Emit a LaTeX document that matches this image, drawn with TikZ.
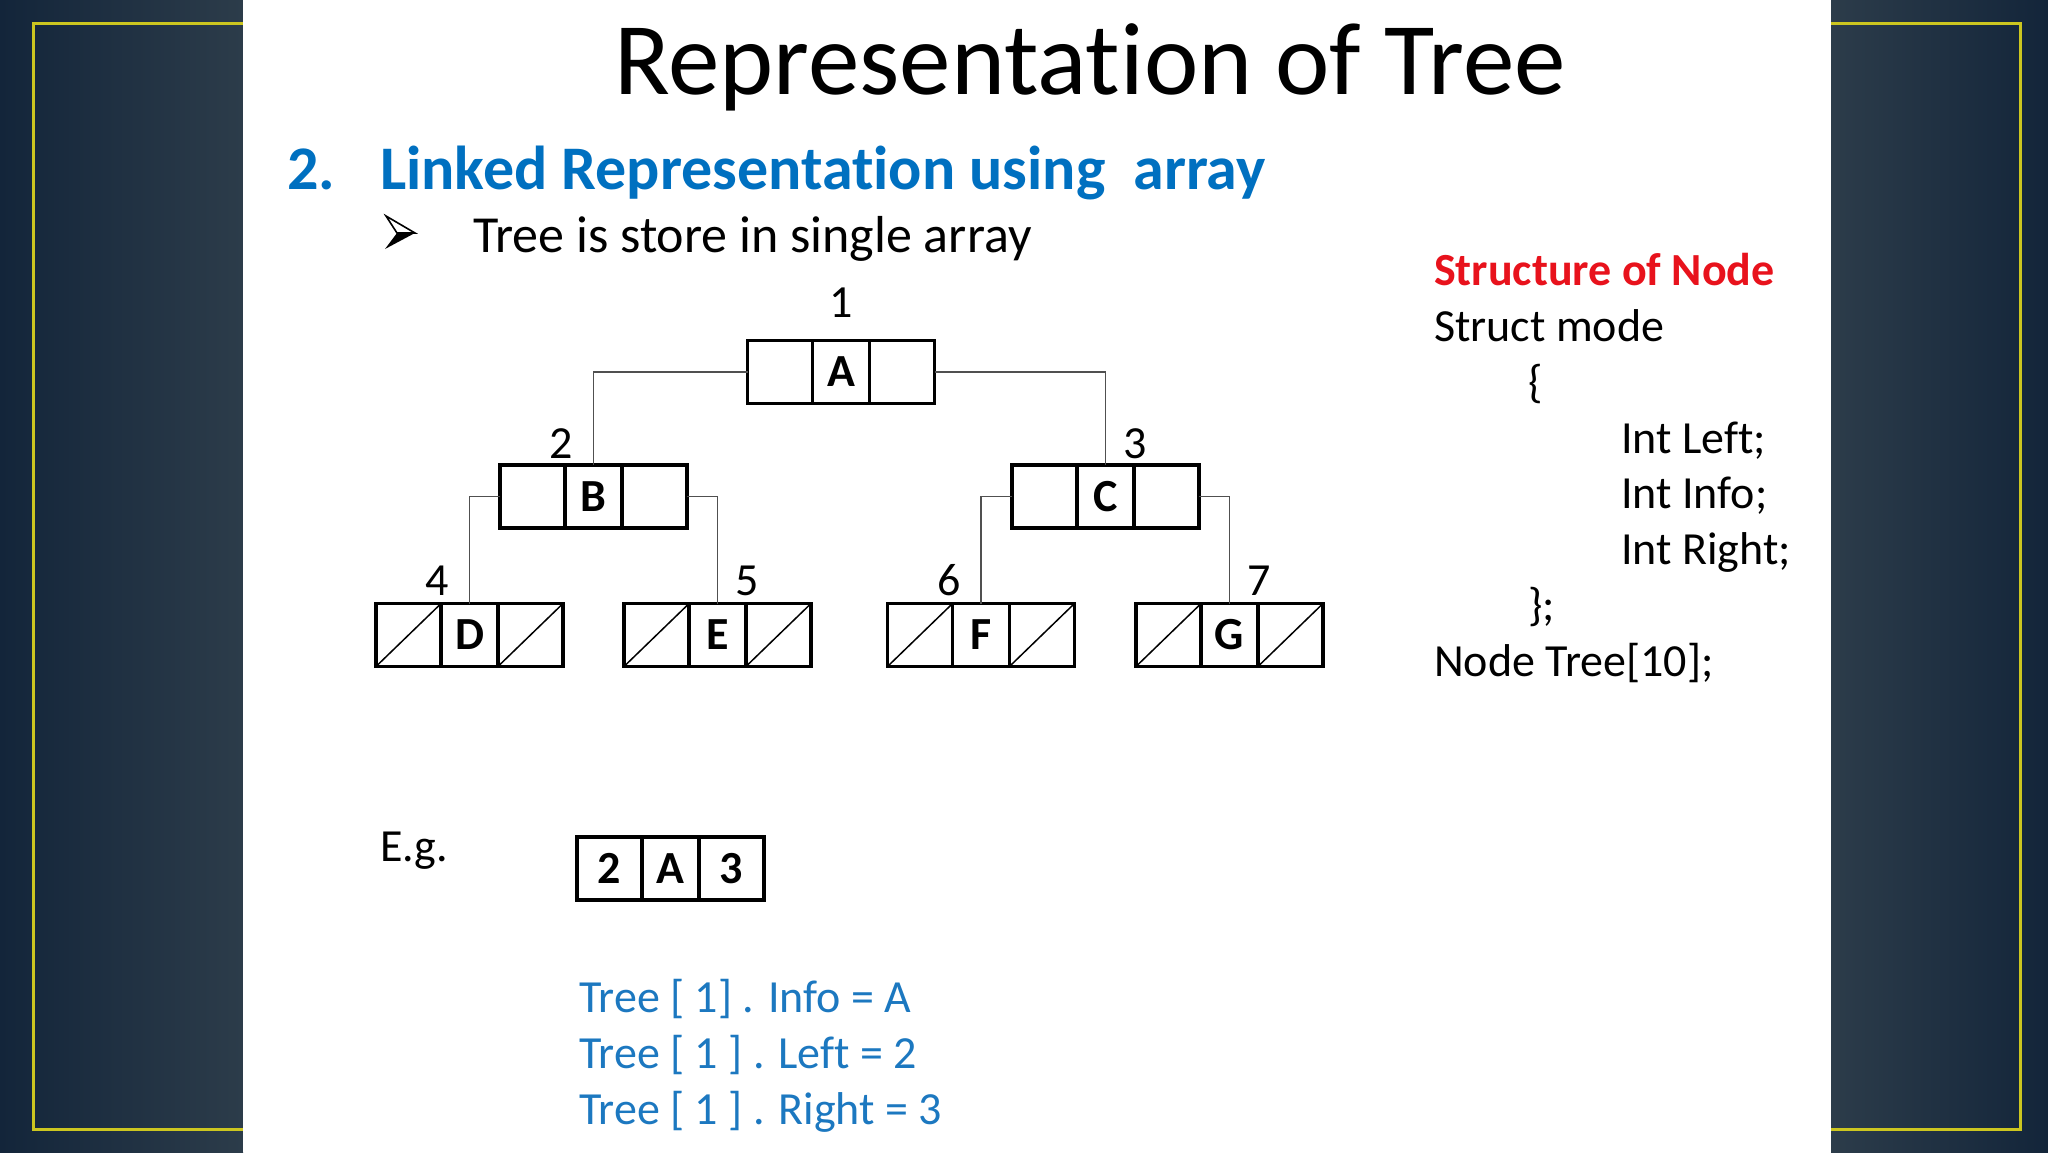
\documentclass[tikz,border=0pt]{standalone}
\usepackage{fontspec}
\setmainfont{Carlito}[Ligatures=CommonOff]
\usetikzlibrary{calc}
\definecolor{bgdark}{HTML}{13253A}
\definecolor{bglight}{HTML}{2C3C4A}
\definecolor{frameyel}{HTML}{CCC620}
\definecolor{headblue}{HTML}{0070C0}
\definecolor{lineblue}{HTML}{1C78C0}
\definecolor{structred}{HTML}{E8121C}
\definecolor{conngray}{HTML}{505050}
\tikzset{
  cellbox/.style={draw=black, line width=3.5pt, minimum width=187pt, minimum height=63pt,
    inner sep=0pt, outer sep=0pt, font=\fontsize{46}{46}\selectfont\bfseries},
  celltext/.style={inner sep=0pt, font=\fontsize{46}{46}\selectfont\bfseries},
  numlabel/.style={inner sep=0pt, anchor=base, font=\fontsize{46}{46}\selectfont},
  conn/.style={draw=conngray, line width=1.8pt},
  txt/.style={inner sep=0pt, anchor=base west},
  divider/.style={line width=3.5pt},
  nullslash/.style={line width=1.5pt},
}
\newcommand\mkcells[4]{%
  \node[cellbox] (#1) at (#2,#3) {#4};
  \draw[divider] ($(#1.north west)!0.348!(#1.north east)$) -- ($(#1.south west)!0.348!(#1.south east)$)
                 ($(#1.north west)!0.652!(#1.north east)$) -- ($(#1.south west)!0.652!(#1.south east)$);
}
\newcommand\mkslashes[1]{%
  \draw[nullslash] (#1.south west) -- ($(#1.north west)!0.348!(#1.north east)$)
                   ($(#1.south west)!0.652!(#1.south east)$) -- (#1.north east);
}
\begin{document}
\begin{tikzpicture}[x=1pt,y=-1pt]
\useasboundingbox (0,0) rectangle (2048,1152);
% background
\shade[left color=bgdark, right color=bglight] (0,0) rectangle (243,1152);
\shade[left color=bglight, right color=bgdark] (1831,0) rectangle (2048,1152);
\draw[frameyel, line width=3pt] (33,23) rectangle (2020,1129);
\fill[white] (243,0) rectangle (1831,1152);

% title and headings
\node[txt, font=\fontsize{103}{103}\selectfont] (title) at (614,94) {Representation of Tree};
\node[txt, font=\fontsize{62}{62}\selectfont\bfseries, text=headblue] (num) at (287,189) {2.};
\node[txt, font=\fontsize{62}{62}\selectfont\bfseries, text=headblue] (head) at (380,189) {Linked Representation using\ \ array};
% bullet arrowhead
\draw[line width=1.6pt, line join=miter] (386,216) -- (415,233) -- (397,233) -- cycle;
\fill (397,233) -- (415,233) -- (385,249) -- cycle;
\node[txt, font=\fontsize{52}{52}\selectfont] (btext) at (473,252) {Tree is store in single array};

% tree
\mkcells{A}{841}{372}{A}
\mkcells{B}{593.5}{496.5}{B}
\mkcells{C}{1105.5}{496.5}{C}
\mkcells{D}{469.5}{635}{D}
\mkcells{E}{717.5}{635}{E}
\mkcells{F}{981}{635}{F}
\mkcells{G}{1229.5}{635}{G}
\mkslashes{D}\mkslashes{E}\mkslashes{F}\mkslashes{G}

\draw[conn] (A.west) -| (B.north);
\draw[conn] (A.east) -| (C.north);
\draw[conn] (B.west) -| (D.north);
\draw[conn] (B.east) -| (E.north);
\draw[conn] (C.west) -| (F.north);
\draw[conn] (C.east) -| (G.north);

\node[numlabel] (n1) at (841,317) {1};
\node[numlabel] (n2) at (561,458) {2};
\node[numlabel] (n3) at (1135,458) {3};
\node[numlabel] (n4) at (437.5,595) {4};
\node[numlabel] (n5) at (747,595) {5};
\node[numlabel] (n6) at (949,595) {6};
\node[numlabel] (n7) at (1259,595) {7};

% structure of node
\begin{scope}[every node/.style={txt, font=\fontsize{46}{46}\selectfont}]
\node[font=\fontsize{46}{46}\selectfont\bfseries, text=structred] (s0) at (1434,285) {Structure of Node};
\node (s1) at (1434,341) {Struct mode};
\node (s2) at (1528,397) {\{};
\node (s3) at (1621,453) {Int Left;};
\node (s4) at (1621,508) {Int Info;};
\node (s5) at (1621,564) {Int Right;};
\node (s6) at (1528,620) {\};};
\node (s7) at (1434,676) {Node Tree[10];};
\node (eg) at (380,861) {E.g.};
\node[text=lineblue] (l1) at (579,1012) {Tree [ 1] . Info = A};
\node[text=lineblue] (l2) at (579,1068) {Tree [ 1 ] . Left = 2};
\node[text=lineblue] (l3) at (579,1124) {Tree [ 1 ] . Right = 3};
\end{scope}

% example record
\mkcells{X}{670.5}{868.5}{A}
\node[celltext] (xl) at ($(X.west)!0.174!(X.east)$) {2};
\node[celltext] (xr) at ($(X.west)!0.826!(X.east)$) {3};
\end{tikzpicture}
\end{document}
